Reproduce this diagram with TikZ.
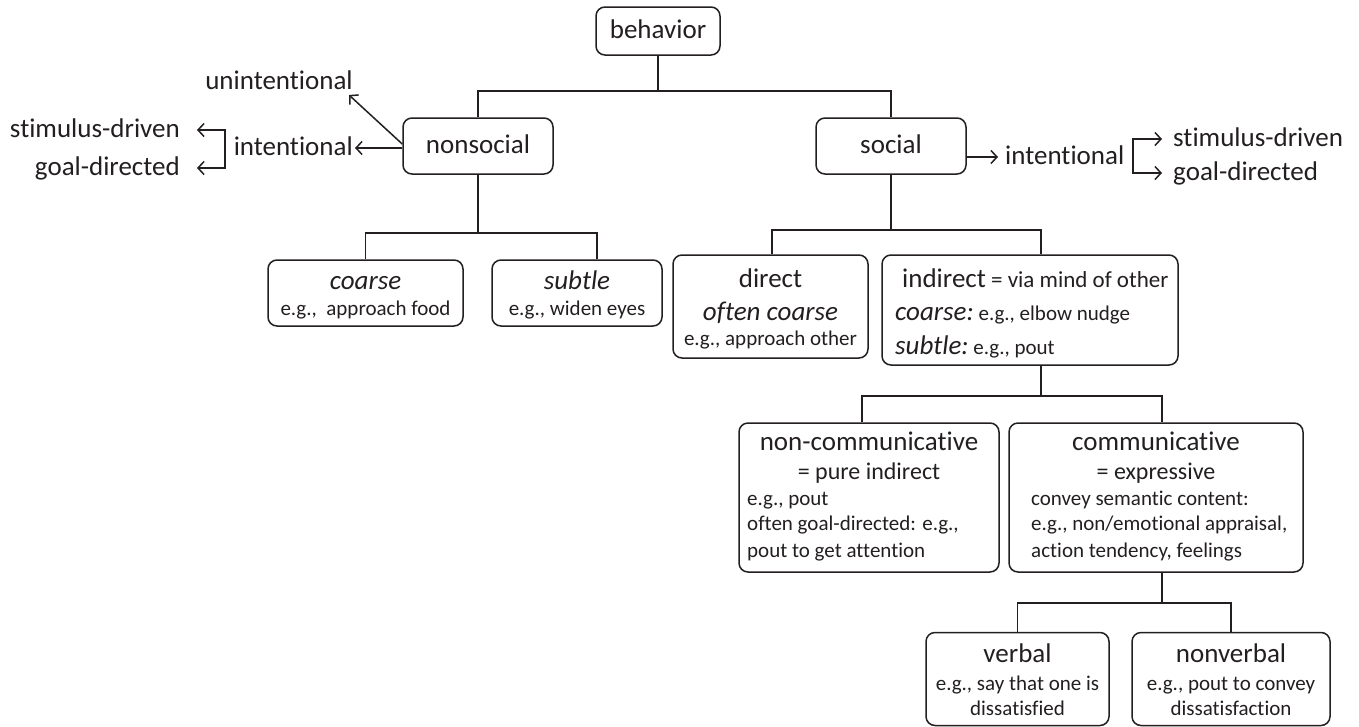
\documentclass[tikz,border=0pt]{standalone}
\usepackage{fontspec}
\setmainfont{Carlito}[Ligatures={NoCommon,NoContextual}]
\usetikzlibrary{arrows.meta}
\definecolor{ink}{HTML}{231F20}
\newcommand\FBig{\fontsize{27}{32}\selectfont}
\newcommand\FMid{\fontsize{24}{28}\selectfont}
\newcommand\FVia{\fontsize{23}{27}\selectfont}
\newcommand\FSm{\fontsize{21}{25}\selectfont}

\begin{document}
\begin{tikzpicture}[x=1pt,y=-1pt,
  box/.style={draw=ink, line width=1.5pt, rounded corners=9pt, inner sep=0pt},
  lbl/.style={inner sep=0pt, text=ink, font=\FBig, text height=19pt, text depth=5pt},
  mlbl/.style={inner sep=0pt, text=ink, font=\FMid, text height=17pt, text depth=4pt},
  slbl/.style={inner sep=0pt, text=ink, font=\FSm, text height=15pt, text depth=4pt},
  link/.style={draw=ink, line width=1.5pt},
  arr/.style={link, -{Straight Barb[length=6pt,width=13pt]}}
]
\useasboundingbox (0,0) rectangle (1359,726);

% ---------- boxes ----------
\node[box, minimum width=124pt, minimum height=48pt] (behavior) at (658,31) {};
\node[box, minimum width=150pt, minimum height=56pt] (nonsocial) at (478,146) {};
\node[box, minimum width=150pt, minimum height=56pt] (social) at (891,146) {};
\node[box, minimum width=195pt, minimum height=66pt] (coarse) at (365.5,293) {};
\node[box, minimum width=170pt, minimum height=66pt] (subtle) at (577,293) {};
\node[box, minimum width=195pt, minimum height=103pt] (direct) at (770.5,306.5) {};
\node[box, minimum width=296pt, minimum height=110pt] (indirect) at (1030,310) {};
\node[box, minimum width=260pt, minimum height=149pt] (noncomm) at (869,497.5) {};
\node[box, minimum width=294pt, minimum height=149pt] (comm) at (1156,497.5) {};
\node[box, minimum width=183pt, minimum height=93pt] (verbal) at (1017.5,679) {};
\node[box, minimum width=198pt, minimum height=93pt] (nonverbal) at (1231,679) {};

% ---------- box texts ----------
\node[lbl] at (658,31) {behavior};
\node[lbl] at (478,146) {nonsocial};
\node[lbl] at (891,146) {social};

\node[lbl] at (365.5,282) {\itshape coarse};
\node[slbl] at (365.5,310) {e.g.,\ \ approach food};
\node[lbl] at (577,282) {\itshape subtle};
\node[slbl] at (577,310) {e.g., widen eyes};

\node[lbl] at (770.5,280) {direct};
\node[lbl] at (770.5,313) {\itshape often coarse};
\node[slbl] at (770.5,340) {e.g., approach other};

\node[lbl, anchor=west] at (902,280) {indirect{\FVia\ = via mind of other}};
\node[lbl, anchor=west] at (895,313) {\textit{coarse:}{\FSm\ e.g., elbow nudge}};
\node[lbl, anchor=west] at (895,347) {\textit{subtle:}{\FSm\ e.g., pout}};

\node[lbl] at (869,443) {non-communicative};
\node[mlbl] at (869,473) {= pure indirect};
\node[slbl, anchor=west] at (747,500) {e.g., pout};
\node[slbl, anchor=west] at (747,525) {often goal-directed: e.g.,};
\node[slbl, anchor=west] at (747,552) {pout to get attention};

\node[lbl] at (1156,443) {communicative};
\node[mlbl] at (1156,473) {= expressive};
\node[slbl, anchor=west] at (1031,500) {convey semantic content:};
\node[slbl, anchor=west] at (1031,525) {e.g., non/emotional appraisal,};
\node[slbl, anchor=west] at (1031,552) {action tendency, feelings};

\node[lbl] at (1017.5,655) {verbal};
\node[slbl] at (1017.5,685) {e.g., say that one is};
\node[slbl] at (1017.5,710) {dissatisfied};
\node[lbl] at (1231,655) {nonverbal};
\node[slbl] at (1231,685) {e.g., pout to convey};
\node[slbl] at (1231,710) {dissatisfaction};

% ---------- tree connectors ----------
\draw[link] (behavior.south) -- ++(0,35) coordinate (jb);
\draw[link] (nonsocial.north) |- (jb) -| (social.north);

\draw[link] (nonsocial.south) -- ++(0,58) coordinate (jn);
\draw[link] (coarse.north) |- (jn) -| ([xshift=20pt]subtle.north);

\draw[link] (social.south) -- ++(0,55) coordinate (js);
\draw[link] ([xshift=1.5pt]direct.north) |- (js) -| ([xshift=11pt]indirect.north);

\draw[link] ([xshift=11pt]indirect.south) -- ++(0,30) coordinate (ji);
\draw[link] ([xshift=-7pt]noncomm.north) |- (ji) -| ([xshift=6pt]comm.north);

\draw[link] ([xshift=6pt]comm.south) -- ++(0,30) coordinate (jc);
\draw[link] (verbal.north) |- (jc) -| (nonverbal.north);

% ---------- nonsocial side ----------
\node[lbl, anchor=east, inner xsep=2pt] (intL) at (355,148) {intentional};
\node[lbl] (unint) at (279,82) {unintentional};
\coordinate (ua) at (349,95);
\draw[arr] (nonsocial.west |- intL.east) -- (intL.east);
\draw[arr] ([yshift=2pt]nonsocial.west) -- (ua);

\coordinate (lbt) at (225,130);
\coordinate (lbb) at (225,168);
\node[lbl, anchor=east, inner xsep=17pt] (stimL) at (197,130) {stimulus-driven};
\node[lbl, anchor=east, inner xsep=17pt] (goalL) at (197,168) {goal-directed};
\draw[arr] (lbb) -- (lbt) -- (stimL.east);
\draw[arr] (lbt) -- (lbb) -- (goalL.east);

% ---------- social side ----------
\node[lbl, anchor=west, inner xsep=7pt] (intR) at (998,157) {intentional};
\draw[arr] (social.east |- intR.west) -- (intR.west);

\coordinate (rbt) at (1133,139);
\coordinate (rbb) at (1133,173);
\node[lbl, anchor=west, inner xsep=11pt] (stimR) at (1162,139) {stimulus-driven};
\node[lbl, anchor=west, inner xsep=11pt] (goalR) at (1162,173) {goal-directed};
\draw[arr] (rbb) -- (rbt) -- (stimR.west);
\draw[arr] (rbt) -- (rbb) -- (goalR.west);
\end{tikzpicture}
\end{document}
